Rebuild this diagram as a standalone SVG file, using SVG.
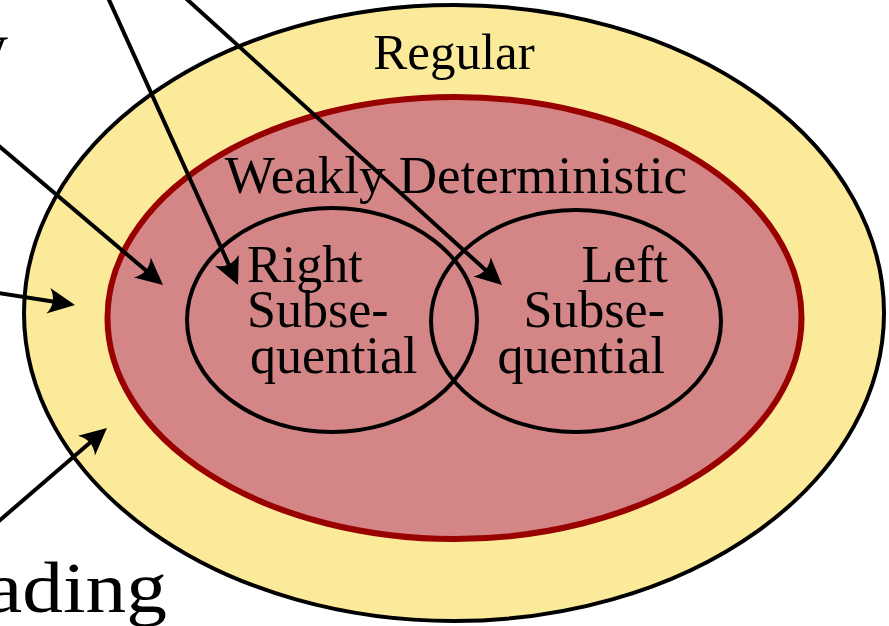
<svg xmlns="http://www.w3.org/2000/svg" width="889" height="626" viewBox="0 0 889 626">
  <style>
    .lbl { font-family: "Liberation Serif", "Times New Roman", serif; fill: #000; }
    .conn { stroke: #000; stroke-width: 4; fill: none; marker-end: url(#head); }
    .set { stroke: #000; stroke-width: 4; fill: none; }
  </style>
  <defs>
    <marker id="head" markerUnits="userSpaceOnUse" orient="auto" refX="-8" refY="0" markerWidth="40" markerHeight="40" overflow="visible">
      <path d="M0,0 L-27,-13 Q-18,0 -27,13 Z" fill="#000"/>
    </marker>
  </defs>
  <rect width="889" height="626" fill="#fff"/>

  <g id="regular">
    <ellipse cx="454" cy="313" rx="430" ry="308" fill="#fbea9a" stroke="#000" stroke-width="4"/>
    <text class="lbl" x="454" y="69" font-size="51" text-anchor="middle">Regular</text>
  </g>

  <g id="weakly-deterministic">
    <ellipse cx="454.5" cy="318" rx="347" ry="221" fill="#d48686" stroke="#990000" stroke-width="6"/>
    <text class="lbl" x="456" y="193" font-size="53" text-anchor="middle">Weakly Deterministic</text>
  </g>

  <g id="right-subsequential">
    <ellipse class="set" cx="332" cy="320" rx="145" ry="112"/>
    <text class="lbl" font-size="52" x="247" y="282">Right</text>
    <text class="lbl" font-size="52" x="247" y="327">Subse-</text>
    <text class="lbl" font-size="52" x="250" y="373">quential</text>
  </g>

  <g id="left-subsequential">
    <ellipse class="set" cx="576" cy="321" rx="145" ry="111"/>
    <text class="lbl" font-size="52" text-anchor="end" x="668" y="282">Left</text>
    <text class="lbl" font-size="52" text-anchor="end" x="665" y="327">Subse-</text>
    <text class="lbl" font-size="52" text-anchor="end" x="665" y="373">quential</text>
  </g>

  <g id="outside-labels">
    <text class="lbl" x="-27" y="70" font-size="70">y</text>
    <text class="lbl" x="-14" y="612" font-size="72" textLength="181" lengthAdjust="spacingAndGlyphs">ading</text>
  </g>

  <g id="connectors">
    <line class="conn" x1="105" y1="-9" x2="234.7" y2="277.7"/>
    <line class="conn" x1="180" y1="-7" x2="496.1" y2="279.6"/>
    <line class="conn" x1="-8" y1="140" x2="156.9" y2="279.8"/>
    <line class="conn" x1="-8" y1="292" x2="67.1" y2="303.7"/>
    <line class="conn" x1="-8" y1="527" x2="100.9" y2="433.2"/>
  </g>
</svg>
